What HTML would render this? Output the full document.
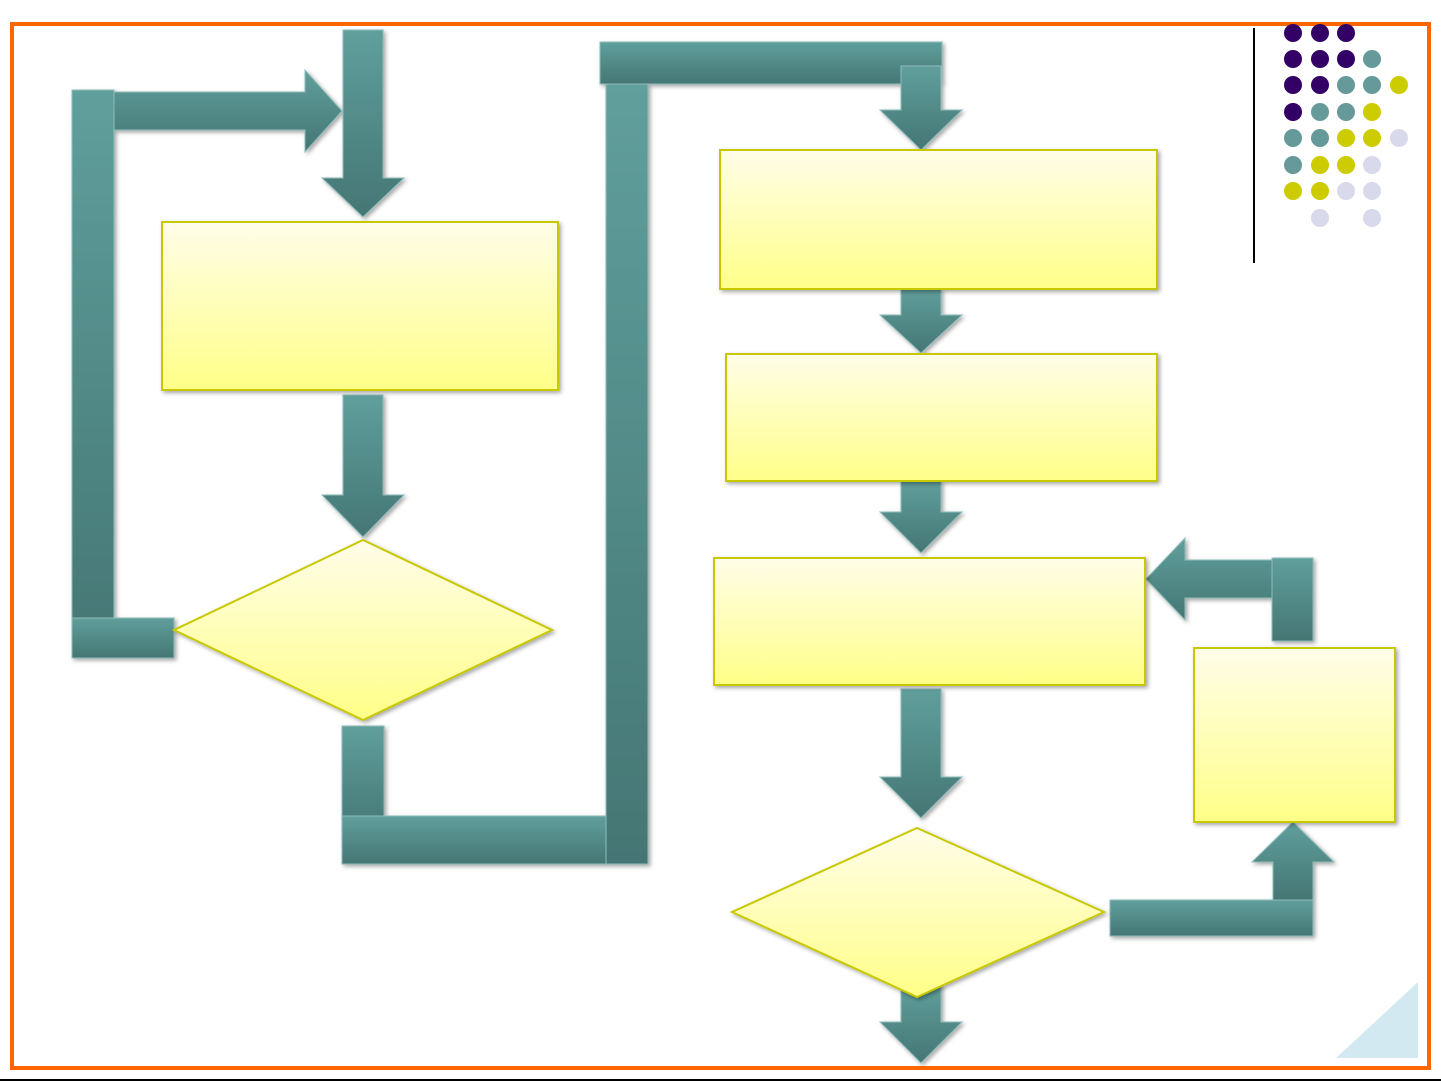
<!DOCTYPE html>
<html><head><style>html,body{margin:0;padding:0;background:#fff}svg{display:block}</style></head><body>
<svg width="1441" height="1081" viewBox="0 0 1441 1081" xmlns="http://www.w3.org/2000/svg">
<defs>
<linearGradient id="tv" x1="0" y1="0" x2="0" y2="1"><stop offset="0" stop-color="#609f9c"/><stop offset="1" stop-color="#447674"/></linearGradient>
<linearGradient id="yl" x1="0" y1="0" x2="0" y2="1"><stop offset="0" stop-color="#fffde8"/><stop offset="1" stop-color="#ffff88"/></linearGradient>
<filter id="sh" x="-20%" y="-20%" width="140%" height="140%"><feDropShadow dx="2" dy="2" stdDeviation="2" flood-color="#000" flood-opacity="0.35"/></filter>
</defs>
<rect x="12" y="24" width="1417" height="1044" fill="none" stroke="#ff6600" stroke-width="4"/>
<line x1="0" y1="1080" x2="1441" y2="1080" stroke="#000" stroke-width="2"/>
<line x1="1254" y1="28" x2="1254" y2="263" stroke="#000" stroke-width="2"/>
<g>
<circle cx="1293" cy="33" r="9" fill="#330066"/><circle cx="1320" cy="33" r="9" fill="#330066"/><circle cx="1346" cy="33" r="9" fill="#330066"/>
<circle cx="1293" cy="59" r="9" fill="#330066"/><circle cx="1320" cy="59" r="9" fill="#330066"/><circle cx="1346" cy="59" r="9" fill="#330066"/><circle cx="1372" cy="59" r="9" fill="#669999"/>
<circle cx="1293" cy="85" r="9" fill="#330066"/><circle cx="1320" cy="85" r="9" fill="#330066"/><circle cx="1346" cy="85" r="9" fill="#669999"/><circle cx="1372" cy="85" r="9" fill="#669999"/><circle cx="1399" cy="85" r="9" fill="#cccc00"/>
<circle cx="1293" cy="112" r="9" fill="#330066"/><circle cx="1320" cy="112" r="9" fill="#669999"/><circle cx="1346" cy="112" r="9" fill="#669999"/><circle cx="1372" cy="112" r="9" fill="#cccc00"/>
<circle cx="1293" cy="138" r="9" fill="#669999"/><circle cx="1320" cy="138" r="9" fill="#669999"/><circle cx="1346" cy="138" r="9" fill="#cccc00"/><circle cx="1372" cy="138" r="9" fill="#cccc00"/><circle cx="1399" cy="138" r="9" fill="#d9d9ec"/>
<circle cx="1293" cy="165" r="9" fill="#669999"/><circle cx="1320" cy="165" r="9" fill="#cccc00"/><circle cx="1346" cy="165" r="9" fill="#cccc00"/><circle cx="1372" cy="165" r="9" fill="#d9d9ec"/>
<circle cx="1293" cy="191" r="9" fill="#cccc00"/><circle cx="1320" cy="191" r="9" fill="#cccc00"/><circle cx="1346" cy="191" r="9" fill="#d9d9ec"/><circle cx="1372" cy="191" r="9" fill="#d9d9ec"/>
<circle cx="1320" cy="218" r="9" fill="#d9d9ec"/><circle cx="1372" cy="218" r="9" fill="#d9d9ec"/>
</g>
<polygon points="1418,982 1418,1058 1336,1058" fill="#d3e9f1"/>
<g filter="url(#sh)" stroke="#8fbdba" stroke-width="1">
<polygon points="343,30 383,30 383,178 404,178 363,217 322,178 343,178" fill="url(#tv)"/>
<rect x="72" y="90" width="42" height="568" fill="url(#tv)"/>
<rect x="72" y="618" width="102" height="40" fill="url(#tv)"/>
<polygon points="114,92 305,92 305,70 342,111 305,152 305,130 114,130" fill="url(#tv)"/>
<polygon points="343,395 383,395 383,495 404,495 363,537 322,495 343,495" fill="url(#tv)"/>
<rect x="342" y="726" width="42" height="110" fill="url(#tv)"/>
<rect x="342" y="816" width="306" height="48" fill="url(#tv)"/>
<rect x="606" y="84" width="42" height="780" fill="url(#tv)"/>
<rect x="600" y="42" width="342" height="42" fill="url(#tv)"/>
<polygon points="901,66 941,66 941,110 962,110 921,150 880,110 901,110" fill="url(#tv)"/>
<polygon points="901,289 941,289 941,315 962,315 921,353 880,315 901,315" fill="url(#tv)"/>
<polygon points="901,481 941,481 941,512 962,512 921,553 880,512 901,512" fill="url(#tv)"/>
<polygon points="901,689 941,689 941,777 962,777 921,818 880,777 901,777" fill="url(#tv)"/>
<polygon points="901,985 941,985 941,1022 962,1022 921,1063 880,1022 901,1022" fill="url(#tv)"/>
<rect x="1110" y="900" width="203" height="36" fill="url(#tv)"/>
<polygon points="1273,900 1273,862 1252,862 1293,822 1334,862 1313,862 1313,900" fill="url(#tv)"/>
<rect x="1272" y="558" width="41" height="83" fill="url(#tv)"/>
<polygon points="1272,560 1185,560 1185,538 1146,579 1185,620 1185,598 1272,598" fill="url(#tv)"/>
</g>
<g filter="url(#sh)" fill="url(#yl)" stroke="#c8c800" stroke-width="2">
<rect x="162" y="222" width="396" height="168"/>
<polygon points="363,540 552,630 363,720 174,630"/>
<rect x="720" y="150" width="437" height="139"/>
<rect x="726" y="354" width="431" height="127"/>
<rect x="714" y="558" width="431" height="127"/>
<polygon points="917,828 1104,912 917,997 732,912"/>
<rect x="1194" y="648" width="201" height="174"/>
</g>
</svg>
</body></html>
